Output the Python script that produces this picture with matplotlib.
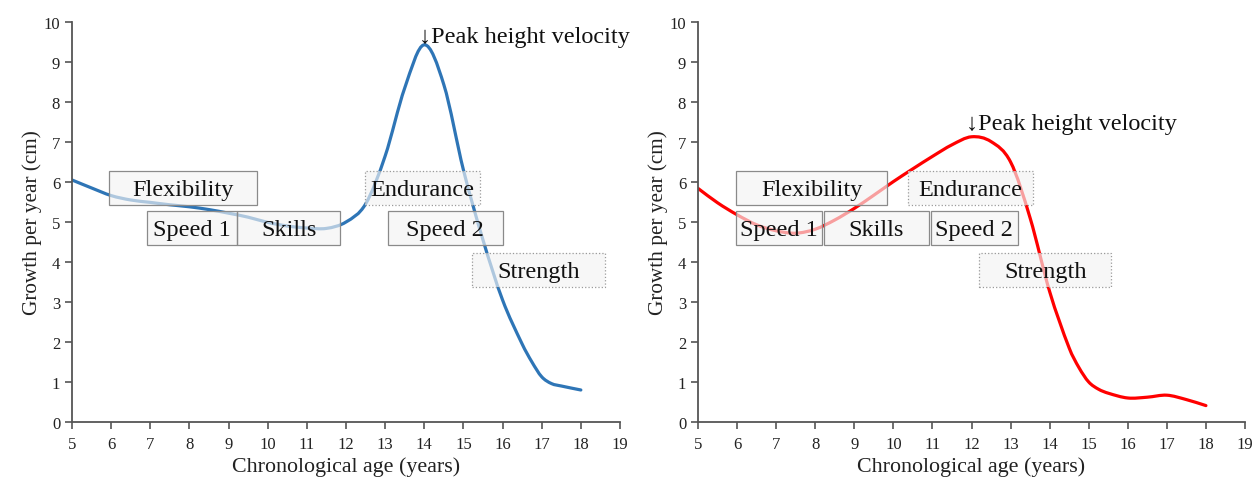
import numpy as np
import matplotlib
matplotlib.use("Agg")
import matplotlib.pyplot as plt
from matplotlib.path import Path
from matplotlib.patches import PathPatch, Rectangle

plt.rcParams['font.family'] = ['Liberation Serif', 'DejaVu Serif']

# growth velocity curves (age in years, cm per year)
boys_age = [5, 5.5, 6, 6.5, 7, 7.5, 8, 8.5, 9, 9.5, 10, 10.5, 11, 11.5, 12,
            12.5, 13, 13.5, 14, 14.5, 15, 15.5, 16, 16.5, 16.75, 17, 17.25, 17.5, 18]
boys = [6.05, 5.85, 5.66, 5.55, 5.49, 5.43, 5.38, 5.31, 5.22, 5.12, 4.99, 4.9, 4.85,
        4.84, 5.0, 5.45, 6.65, 8.35, 9.43, 8.43, 6.3, 4.55, 3.05, 1.95, 1.5, 1.13, 0.96,
        0.9, 0.8]
girls_age = [5, 5.5, 6, 6.5, 7, 7.5, 8, 8.5, 9, 9.5, 10, 10.5, 11, 11.5, 12,
             12.5, 13, 13.5, 14, 14.5, 14.75, 15, 15.25, 15.5, 16, 16.5, 17, 17.5, 18]
girls = [5.84, 5.48, 5.18, 4.93, 4.78, 4.72, 4.82, 5.05, 5.34, 5.67, 6.01, 6.33, 6.64,
         6.93, 7.13, 7.01, 6.5, 5.1, 3.26, 1.85, 1.36, 1.0, 0.82, 0.72, 0.6, 0.62, 0.67,
         0.56, 0.41]

# trainability windows: (label, x0, x1, y0, y1, dotted)
boys_boxes = [
    ("Flexibility", 5.95, 9.73, 5.42, 6.28, False),
    ("Speed 1", 6.92, 9.22, 4.42, 5.28, False),
    ("Skills", 9.22, 11.85, 4.42, 5.28, False),
    ("Endurance", 12.49, 15.42, 5.42, 6.28, True),
    ("Speed 2", 13.07, 16.0, 4.42, 5.28, False),
    ("Strength", 15.22, 18.62, 3.38, 4.22, True),
]
girls_boxes = [
    ("Flexibility", 5.97, 9.84, 5.42, 6.28, False),
    ("Speed 1", 5.97, 8.17, 4.42, 5.28, False),
    ("Skills", 8.22, 10.91, 4.42, 5.28, False),
    ("Endurance", 10.38, 13.58, 5.42, 6.28, True),
    ("Speed 2", 10.96, 13.18, 4.42, 5.28, False),
    ("Strength", 12.2, 15.58, 3.38, 4.22, True),
]
peak_boys = (13.87, 9.64)
peak_girls = (11.86, 7.47)


def smooth_path(x, y):
    # Catmull-Rom (non-uniform spacing) handed to matplotlib as cubic Beziers
    pts = np.column_stack([np.asarray(x, float), np.asarray(y, float)])
    verts = [pts[0]]
    codes = [Path.MOVETO]
    n = len(pts)
    tang = []
    for i in range(n):
        a = pts[max(i - 1, 0)]
        b = pts[min(i + 1, n - 1)]
        tang.append((b - a) / (b[0] - a[0]))
    for i in range(n - 1):
        h = pts[i + 1][0] - pts[i][0]
        verts += [pts[i] + tang[i] * h / 3.0, pts[i + 1] - tang[i + 1] * h / 3.0, pts[i + 1]]
        codes += [Path.CURVE4] * 3
    return Path(verts, codes)


def draw_panel(ax, x, y, color, boxes, peak):
    ax.add_patch(PathPatch(smooth_path(x, y), facecolor='none', edgecolor=color,
                           lw=2.3, capstyle='round', zorder=2))
    for label, x0, x1, y0, y1, dotted in boxes:
        ax.add_patch(Rectangle((x0, y0), x1 - x0, y1 - y0, facecolor='#f4f4f4', alpha=0.65,
                               edgecolor='none', zorder=3))
        ax.add_patch(Rectangle((x0, y0), x1 - x0, y1 - y0, facecolor='none',
                               edgecolor='#9a9a9a' if dotted else '#8a8a8a',
                               linestyle=':' if dotted else '-', lw=0.9, zorder=4))
        ax.text((x0 + x1) / 2, (y0 + y1) / 2 - 0.03, label, ha='center', va='center',
                fontsize=17.5, color='#111111', zorder=5)
    ax.text(peak[0], peak[1], "\u2193Peak height velocity", ha='left', va='center',
            fontsize=17.5, color='#111111', zorder=5)

    ax.set_xlim(5, 19)
    ax.set_ylim(0, 10)
    ax.set_xticks(range(5, 20))
    ax.set_yticks(range(0, 11))
    for s in ['top', 'right']:
        ax.spines[s].set_visible(False)
    for s in ['left', 'bottom']:
        ax.spines[s].set_color('#555555')
        ax.spines[s].set_linewidth(1.3)
    ax.tick_params(colors='#555555', width=1.2, length=5, labelsize=12, labelcolor='#222222')
    ax.tick_params(axis='x', pad=5)
    ax.set_xlabel("Chronological age (years)", fontsize=15.8, color='#222222', labelpad=3)
    ax.set_ylabel("Growth per year (cm)", fontsize=15.3, color='#222222', labelpad=1)


fig = plt.figure(figsize=(12.53, 4.81), dpi=100)
ax1 = fig.add_axes([0.0575, 0.1206, 0.4373, 0.8316])
ax2 = fig.add_axes([0.5571, 0.1206, 0.4365, 0.8316])

draw_panel(ax1, boys_age, boys, '#2e75b6', boys_boxes, peak_boys)
draw_panel(ax2, girls_age, girls, '#ff0000', girls_boxes, peak_girls)

fig.savefig("out.png", dpi=100)
